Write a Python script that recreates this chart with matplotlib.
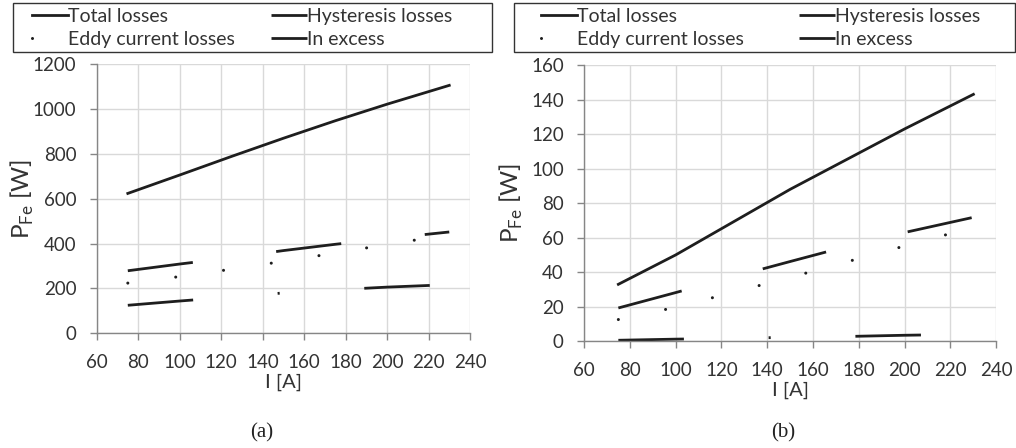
"""
Iron losses vs current, two panels
"""
import matplotlib
matplotlib.use("Agg")
import matplotlib.pyplot as plt
from matplotlib.patches import Rectangle

plt.rcParams['font.family'] = ['Lato', 'DejaVu Sans']
plt.rcParams['mathtext.fontset'] = 'custom'
plt.rcParams['mathtext.rm'] = 'Lato'
plt.rcParams['lines.scale_dashes'] = False

# current [A]
current = [75, 100, 125, 150, 175, 200, 230]

# panel (a)
total_a = [624, 706, 789, 870, 948, 1022, 1106]
hyst_a = [279, 309, 337, 369, 397, 423, 452]
eddy_a = [224, 253, 286, 321, 358, 396, 440]
excess_a = [125, 144, 162, 180, 194, 206, 217]

# panel (b)
total_b = [33, 50, 69, 88, 105.5, 123, 143]
hyst_b = [19.3, 28.2, 37.3, 46.2, 55.0, 63.0, 71.8]
eddy_b = [12.6, 19.7, 28.3, 37.0, 46.1, 55.2, 66.0]
excess_b = [0.6, 1.25, 1.75, 2.3, 2.8, 3.5, 4.1]

labels = ["Total losses", "Eddy current losses", "Hysteresis losses", "In excess"]
xticks = list(range(60, 241, 20))

INK = '#1e1e1e'
GRID = '#d9d9d9'
AXC = '#868686'
FS = 13.5

fig = plt.figure(figsize=(10.16, 4.48), dpi=100)
W, H = 1016.0, 448.0


def make_axes(left, right, top, bottom):
    return fig.add_axes([left / W, 1 - bottom / H, (right - left) / W, (bottom - top) / H])


def style(ax, ymax, ystep, ylab_x):
    ax.set_xlim(60, 240)
    ax.set_ylim(0, ymax)
    ax.set_xticks(xticks)
    ax.set_yticks(range(0, ymax + 1, ystep))
    ax.grid(True, color=GRID, lw=1.0)
    ax.set_axisbelow(True)
    for s in ['top', 'right']:
        ax.spines[s].set_visible(False)
    for s in ['left', 'bottom']:
        ax.spines[s].set_color(AXC)
        ax.spines[s].set_linewidth(1.0)
    ax.tick_params(axis='both', colors=AXC, length=5, width=1.0, labelsize=FS,
                   labelcolor='#333333')
    ax.tick_params(axis='x', pad=10)
    ax.tick_params(axis='y', pad=9.5)
    ax.set_xlabel("I [A]", fontsize=FS + 1, color='#333333', labelpad=2)
    ax.set_ylabel(r"P$_{\mathrm{Fe}}$ [W]", fontsize=17.5, color='#333333')
    ax.yaxis.set_label_coords(ylab_x, 0.5)
    ax.yaxis.label.set_va('center')


def draw(ax, tot, hys, edd, exc):
    h1, = ax.plot(current, tot, color=INK, lw=2.0)
    h3, = ax.plot(current, hys, color=INK, lw=2.0, linestyle=(0, (47.2, 60.5)))
    h2, = ax.plot(current, edd, color=INK, lw=2.2, linestyle=(0, (0.01, 34.75)),
                  dash_capstyle='round')
    h4, = ax.plot(current, exc, color=INK, lw=2.0, linestyle=(0, (47.2, 61, 1.5, 61)))
    return [h1, h2, h3, h4]


def legend(ax, handles, x_handle, colsp, box):
    leg = ax.legend(handles, labels, ncol=2, loc='upper left',
                    bbox_to_anchor=(x_handle / W, 1 - 8 / H), bbox_transform=fig.transFigure,
                    frameon=False, fontsize=14, handlelength=1.85, handletextpad=0.0,
                    columnspacing=colsp, borderpad=0, borderaxespad=0, labelspacing=0.3)
    for t in leg.get_texts():
        t.set_color('#333333')
    x0, x1, y0, y1 = box
    fig.add_artist(Rectangle((x0 / W, 1 - y1 / H), (x1 - x0) / W, (y1 - y0) / H,
                             transform=fig.transFigure, fill=False, ec='#333333', lw=1.0))


ax_a = make_axes(96.7, 470.0, 64.3, 333.3)
style(ax_a, 1200, 200, -0.2)
ha = draw(ax_a, total_a, hyst_a, eddy_a, excess_a)
legend(ax_a, ha, 32, 1.85, (13, 492, 3, 52))

ax_b = make_axes(584.0, 996.3, 65.0, 341.3)
style(ax_b, 160, 20, -0.175)
hb = draw(ax_b, total_b, hyst_b, eddy_b, excess_b)
legend(ax_b, hb, 540.7, 2.85, (514, 1015, 3, 52))

fig.text(262 / W, 1 - 433 / H, "(a)", ha='center', va='center',
         fontsize=15, family='Liberation Serif', color='#222222')
fig.text(783 / W, 1 - 433 / H, "(b)", ha='center', va='center',
         fontsize=15, family='Liberation Serif', color='#222222')

fig.savefig("out.png", dpi=100)
